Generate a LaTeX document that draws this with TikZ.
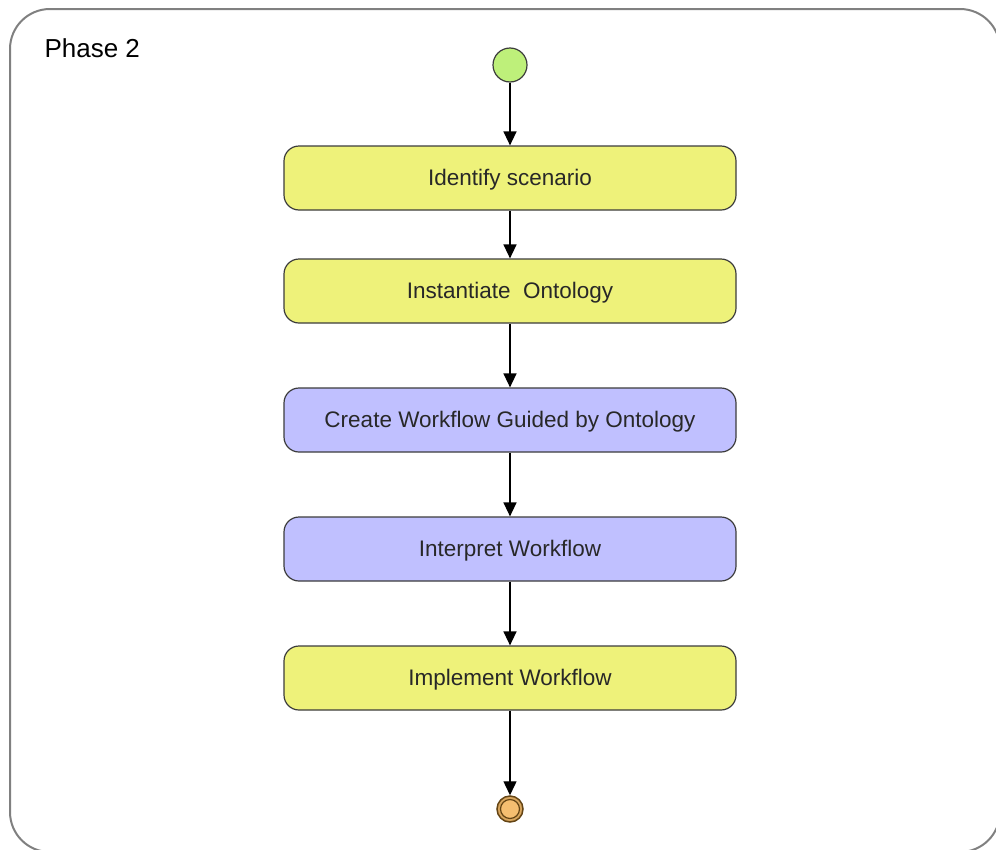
\documentclass[tikz,border=0pt]{standalone}
\usepackage{fontspec}
\setmainfont{Liberation Sans}
\usetikzlibrary{arrows.meta}
\definecolor{actyellow}{RGB}{238,242,122}
\definecolor{actblue}{RGB}{192,192,255}
\definecolor{startgreen}{RGB}{190,240,122}
\definecolor{endorange}{RGB}{245,190,112}
\definecolor{endring}{RGB}{100,68,20}
\definecolor{framegray}{RGB}{128,128,128}
\definecolor{boxline}{RGB}{60,60,60}
\definecolor{labeltext}{RGB}{40,40,40}
\tikzset{
  action/.style={draw=boxline, line width=1.2pt, rounded corners=15pt,
    minimum width=452pt, minimum height=64pt, inner sep=0pt,
    text height=17pt, text depth=3pt,
    font=\fontsize{22.5}{26}\selectfont, text=labeltext},
  flow/.style={draw=black, line width=1.4pt, -{Triangle[length=14pt,width=13pt]}},
}
\begin{document}
\begin{tikzpicture}[x=1pt,y=-1pt]
  \useasboundingbox (0,0) rectangle (996,849);
  % phase frame
  \draw[framegray, line width=2pt, rounded corners=40pt] (10,9) rectangle (1000,852);
  \node[anchor=west, font=\fontsize{26}{30}\selectfont] (phase) at (41,48) {Phase 2};

  % initial and final nodes
  \node[circle, draw=boxline, line width=1.2pt, fill=startgreen, minimum size=34pt, inner sep=0pt] (start) at (510,65) {};
  \node[circle, draw=endring, line width=1.5pt, fill=endorange!80!endring, minimum size=26pt, inner sep=0pt] (finish) at (510,809) {};
  \node[circle, draw=endring, line width=1.2pt, fill=endorange, minimum size=19pt, inner sep=0pt] (finishin) at (510,809) {};

  % activities
  \node[action, fill=actyellow] (identify) at (510,178) {Identify scenario};
  \node[action, fill=actyellow] (instantiate) at (510,291) {Instantiate\ \ Ontology};
  \node[action, fill=actblue] (create) at (510,420) {Create Workflow Guided by Ontology};
  \node[action, fill=actblue] (interpret) at (510,549) {Interpret Workflow};
  \node[action, fill=actyellow] (implement) at (510,678) {Implement Workflow};

  % control flow
  \draw[flow] (start) -- (identify);
  \draw[flow] (identify) -- (instantiate);
  \draw[flow] (instantiate) -- (create);
  \draw[flow] (create) -- (interpret);
  \draw[flow] (interpret) -- (implement);
  \draw[flow] (implement) -- (finish);
\end{tikzpicture}
\end{document}
